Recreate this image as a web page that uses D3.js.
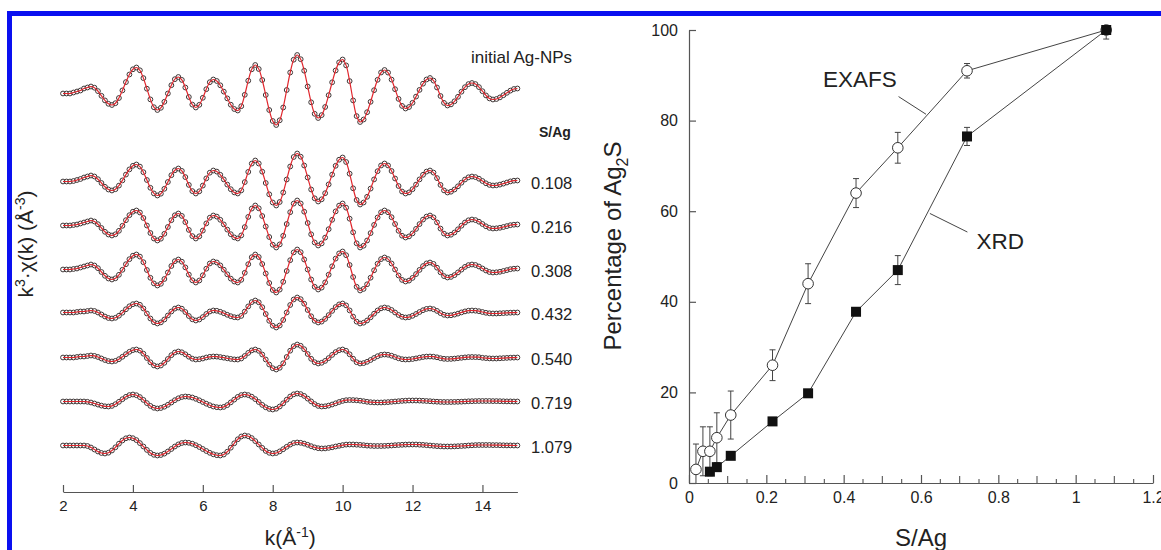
<!DOCTYPE html>
<html>
<head>
<meta charset="utf-8">
<script src="https://cdn.jsdelivr.net/npm/d3@7"></script>
<style>
  html, body { margin: 0; padding: 0; background: #fff; }
  svg { display: block; font-family: "Liberation Sans", Arial, Helvetica, sans-serif; }
</style>
</head>
<body>
<svg id="chart" width="1161" height="550"></svg>
<script>
// ---------- EXAFS spectra: k^3*chi(k), uniform k grid ----------
const kStart = 2, kStep = 0.1;
const kTicks = [2, 4, 6, 8, 10, 12, 14];

// S/Ag ratios of the sulfidised samples
const sAgValues = [0.108, 0.216, 0.308, 0.432, 0.540, 0.719, 1.079];
const lowSAg = [0.018, 0.036, 0.054, 0.072];

// vertical stacking of the spectra (same units as k^3*chi)
const stackOffsets = [0, -8.8, -13.2, -17.6, -21.9, -26.4, -30.8, -35.2];

const chiInitial = [0,0,0,0.1,0.2,0.3,0.5,0.6,0.7, 0.58,0.24,-0.23,-0.69,-1.03,-1.15, -0.97,-0.45,0.31,1.14,1.9,2.42,2.6, 2.32,1.54,0.48,-0.59,-1.37,-1.65, -1.43,-0.83,0,0.83,1.43,1.65, 1.36,0.6,-0.35,-1.11,-1.4, -1.13,-0.43,0.43,1.13,1.4, 1.25,0.82,0.19,-0.49,-1.12,-1.55,-1.7, -1.27,-0.13,1.28,2.42,2.85, 2.45,1.35,-0.15,-1.65,-2.75,-3.15, -2.68,-1.4,0.35,2.1,3.38,3.85, 3.43,2.28,0.7,-0.88,-2.03,-2.45, -2.16,-1.35,-0.17,1.12,2.3,3.11,3.4, 2.81,1.24,-0.69,-2.26,-2.85, -2.6,-1.87,-0.83,0.33,1.37,2.1,2.35, 2.09,1.39,0.43,-0.54,-1.24,-1.5, -1.35,-0.93,-0.31,0.36,0.98,1.4,1.55, 1.29,0.6,-0.25,-0.94,-1.2, -1.09,-0.78,-0.33,0.18,0.63,0.94,1.05, 0.94,0.64,0.23,-0.19,-0.49,-0.6, -0.55,-0.39,-0.17,0.07,0.29,0.45,0.5];

const chi0108 = [0,0,0,0.05,0.15,0.25,0.4,0.5,0.6, 0.5,0.23,-0.15,-0.53,-0.8,-0.9, -0.77,-0.41,0.11,0.69,1.21,1.57,1.7, 1.49,0.93,0.15,-0.63,-1.19,-1.4, -1.22,-0.73,-0.05,0.63,1.12,1.3, 1.06,0.44,-0.34,-0.96,-1.2, -0.98,-0.41,0.31,0.88,1.1, 0.99,0.67,0.21,-0.31,-0.77,-1.09,-1.2, -0.89,-0.06,0.96,1.79,2.1, 1.8,0.98,-0.15,-1.28,-2.1,-2.4, -2.05,-1.1,0.2,1.5,2.45,2.8, 2.48,1.6,0.4,-0.8,-1.68,-2, -1.78,-1.17,-0.29,0.69,1.57,2.18,2.4, 1.95,0.78,-0.68,-1.85,-2.3, -2.1,-1.53,-0.71,0.21,1.03,1.6,1.8, 1.6,1.05,0.3,-0.45,-1,-1.2, -1.09,-0.77,-0.31,0.21,0.67,0.99,1.1, 0.89,0.34,-0.34,-0.89,-1.1, -1.02,-0.8,-0.48,-0.12,0.2,0.42,0.5, 0.44,0.28,0.05,-0.18,-0.34,-0.4, -0.38,-0.31,-0.21,-0.1,0.01,0.08,0.1];

const chi0216 = [0,0,0,0.05,0.1,0.2,0.3,0.4,0.5, 0.4,0.13,-0.25,-0.63,-0.9,-1, -0.88,-0.53,-0.03,0.53,1.03,1.38,1.5, 1.3,0.75,0,-0.75,-1.3,-1.5, -1.32,-0.83,-0.15,0.53,1.02,1.2, 0.96,0.34,-0.44,-1.06,-1.3, -1.08,-0.51,0.21,0.78,1, 0.89,0.57,0.11,-0.41,-0.87,-1.19,-1.3, -0.99,-0.16,0.86,1.69,2, 1.72,0.95,-0.1,-1.15,-1.92,-2.2, -1.89,-1.03,0.15,1.33,2.19,2.5, 2.2,1.38,0.25,-0.88,-1.7,-2, -1.79,-1.21,-0.37,0.57,1.41,1.99,2.2, 1.78,0.68,-0.68,-1.78,-2.2, -2.02,-1.5,-0.76,0.06,0.8,1.32,1.5, 1.32,0.83,0.15,-0.53,-1.02,-1.2, -1.09,-0.79,-0.34,0.14,0.59,0.89,1, 0.81,0.31,-0.31,-0.81,-1, -0.92,-0.7,-0.38,-0.02,0.3,0.52,0.6, 0.54,0.38,0.15,-0.08,-0.24,-0.3, -0.28,-0.23,-0.15,-0.06,0.03,0.08,0.1];

const chi0308 = [0,0,0,0.05,0.1,0.2,0.3,0.4,0.5, 0.4,0.13,-0.25,-0.63,-0.9,-1, -0.88,-0.53,-0.03,0.53,1.03,1.38,1.5, 1.29,0.73,-0.05,-0.83,-1.39,-1.6, -1.43,-0.95,-0.3,0.35,0.83,1, 0.78,0.21,-0.51,-1.08,-1.3, -1.1,-0.58,0.08,0.6,0.8, 0.7,0.41,-0.02,-0.48,-0.91,-1.2,-1.3, -1.03,-0.33,0.53,1.23,1.5, 1.25,0.55,-0.4,-1.35,-2.05,-2.3, -2.01,-1.23,-0.15,0.93,1.71,2, 1.73,1,0,-1,-1.73,-2, -1.81,-1.29,-0.52,0.32,1.09,1.61,1.8, 1.43,0.45,-0.75,-1.73,-2.1, -1.94,-1.48,-0.82,-0.08,0.58,1.04,1.2, 1.04,0.6,0,-0.6,-1.04,-1.2, -1.11,-0.84,-0.46,-0.04,0.34,0.61,0.7, 0.56,0.18,-0.28,-0.66,-0.8, -0.74,-0.56,-0.29,-0.01,0.26,0.44,0.5, 0.45,0.3,0.1,-0.1,-0.25,-0.3, -0.28,-0.23,-0.15,-0.06,0.03,0.08,0.1];

const chi0432 = [0,0,0,0,0.05,0.1,0.1,0.15,0.2, 0.15,0,-0.2,-0.4,-0.55,-0.6, -0.53,-0.32,-0.02,0.32,0.62,0.83,0.9, 0.77,0.4,-0.1,-0.6,-0.97,-1.1, -0.99,-0.7,-0.3,0.1,0.39,0.5, 0.38,0.05,-0.35,-0.68,-0.8, -0.7,-0.46,-0.15,0.1,0.2, 0.17,0.07,-0.07,-0.23,-0.37,-0.47,-0.5, -0.34,0.09,0.61,1.04,1.2, 1.02,0.53,-0.15,-0.83,-1.32,-1.5, -1.3,-0.75,0,0.75,1.3,1.5, 1.33,0.88,0.25,-0.38,-0.83,-1, -0.91,-0.64,-0.26,0.16,0.54,0.81,0.9, 0.71,0.21,-0.41,-0.91,-1.1, -1.02,-0.8,-0.48,-0.12,0.2,0.42,0.5, 0.43,0.25,0,-0.25,-0.43,-0.5, -0.46,-0.33,-0.15,0.05,0.23,0.36,0.4, 0.33,0.16,-0.06,-0.23,-0.3, -0.28,-0.21,-0.11,0.01,0.11,0.18,0.2, 0.18,0.13,0.05,-0.03,-0.08,-0.1, -0.1,-0.08,-0.06,-0.04,-0.02,-0.01,0];

const chi0540 = [0,0,0,0,0.05,0.1,0.1,0.15,0.2, 0.16,0.05,-0.1,-0.25,-0.36,-0.4, -0.34,-0.17,0.07,0.33,0.57,0.74,0.8, 0.69,0.38,-0.05,-0.48,-0.79,-0.9, -0.8,-0.53,-0.15,0.23,0.5,0.6, 0.52,0.32,0.08,-0.12,-0.2, -0.17,-0.1,0,0.07,0.1, 0.09,0.04,-0.02,-0.08,-0.14,-0.19,-0.2, -0.1,0.15,0.46,0.71,0.8, 0.67,0.3,-0.2,-0.7,-1.07,-1.2, -1.03,-0.58,0.05,0.68,1.13,1.3, 1.17,0.83,0.35,-0.13,-0.47,-0.6, -0.53,-0.34,-0.06,0.26,0.54,0.73,0.8, 0.67,0.32,-0.12,-0.47,-0.6, -0.56,-0.43,-0.25,-0.05,0.13,0.26,0.3, 0.27,0.18,0.05,-0.08,-0.17,-0.2, -0.19,-0.15,-0.09,-0.02,0.05,0.09,0.1, 0.08,0.02,-0.07,-0.13,-0.15, -0.14,-0.11,-0.07,-0.03,0.01,0.04,0.05, 0.04,0.03,-0.03,-0.06,-0.09,-0.1, -0.1,-0.08,-0.06,-0.04,-0.02,-0.01,0];

const chi0719 = [0,0,0,0,0,0,0, -0.03,-0.1,-0.2,-0.31,-0.41,-0.48,-0.5, -0.44,-0.27,-0.03,0.23,0.47,0.64,0.7, 0.63,0.44,0.16,-0.16,-0.44,-0.63,-0.7, -0.65,-0.52,-0.33,-0.1,0.13,0.32,0.45,0.5, 0.47,0.4,0.27,0.12,-0.05,-0.22,-0.37,-0.5,-0.57,-0.6, -0.54,-0.36,-0.09,0.19,0.46,0.64,0.7, 0.64,0.48,0.24,-0.05,-0.34,-0.58,-0.74,-0.8, -0.72,-0.5,-0.18,0.18,0.5,0.72,0.8, 0.74,0.56,0.29,0.01,-0.26,-0.44,-0.5, -0.48,-0.41,-0.3,-0.18,-0.05,0.06,0.13,0.15, 0.14,0.12,0.08,0.03,-0.03,-0.07,-0.09,-0.1, -0.1,-0.08,-0.06,-0.03,0,0.03,0.06,0.08,0.1,0.1, 0.1,0.09,0.07,0.05,0.03,0,-0.02,-0.04,-0.05,-0.05, -0.05,-0.04,-0.03,-0.02,0,0.02,0.03,0.04,0.05,0.05, 0.05,0.05,0.04,0.04,0.03,0.02,0.01,0.01,0,0];

const chi1079 = [0,0,0,0,0,0,0, -0.05,-0.2,-0.4,-0.6,-0.75,-0.8, -0.72,-0.5,-0.18,0.18,0.5,0.72,0.8, 0.73,0.54,0.24,-0.1,-0.44,-0.74,-0.93,-1, -0.95,-0.81,-0.6,-0.35,-0.1,0.11,0.25,0.3, 0.27,0.18,0.03,-0.15,-0.35,-0.55,-0.73,-0.88,-0.97,-1, -0.9,-0.62,-0.22,0.22,0.62,0.9,1, 0.93,0.74,0.44,0.1,-0.24,-0.54,-0.73,-0.8, -0.75,-0.59,-0.37,-0.13,0.09,0.25,0.3, 0.27,0.19,0.07,-0.07,-0.19,-0.27,-0.3, -0.29,-0.24,-0.18,-0.1,-0.03,0.04,0.09,0.1, 0.1,0.08,0.06,0.03,-0.01,-0.03,-0.05,-0.05, -0.05,-0.04,-0.02,0,0.03,0.05,0.07,0.09,0.1,0.1, 0.1,0.08,0.06,0.03,0,-0.03,-0.06,-0.08,-0.1,-0.1, -0.1,-0.09,-0.07,-0.05,-0.03,0,0.02,0.04,0.05,0.05, 0.05,0.05,0.04,0.04,0.03,0.02,0.01,0.01,0,0];

const spectra = [chiInitial, chi0108, chi0216, chi0308, chi0432, chi0540, chi0719, chi1079];

// ---------- Ag2S fraction vs S/Ag ----------
const exafsSAg = [...lowSAg, ...sAgValues];
const exafsPct = [3, 7, 7, 10, 15, 26, 44, 64, 74, 91, 100];
const exafsErr = [5.6, 5.4, 5.4, 5.5, 5.3, 3.4, 4.4, 3.2, 3.4, 1.6, 0];

const xrdSAg = [0.054, 0.072, ...sAgValues];
const xrdPct = [2.5, 3.5, 6, 13.6, 19.8, 37.8, 47, 76.5, 100];
const xrdErr = [0, 0, 0, 0, 0, 0, 3.2, 2, 2];

const pctTicks = [0, 20, 40, 60, 80, 100];
const sAgTicks = [0, 0.2, 0.4, 0.6, 0.8, 1, 1.2];

// ---------- drawing ----------
const svg = d3.select("#chart");
const ink = "#222";
const axisGrey = "#555";

// blue frame
svg.append("rect").attr("x", 7).attr("y", 11).attr("width", 1154).attr("height", 5).attr("fill", "#0a10f0");
svg.append("rect").attr("x", 7).attr("y", 11).attr("width", 5).attr("height", 539).attr("fill", "#0a10f0");

// ----- left panel -----
const xK = d3.scaleLinear().domain([2, 15]).range([63, 517.4]);
const yK = d3.scaleLinear().domain([5, -38]).range([43.5, 473.5]);

const left = svg.append("g");

const fitLine = d3.line()
  .x(d => xK(d.k))
  .y(d => yK(d.v))
  .curve(d3.curveCatmullRom);

spectra.forEach((vals, s) => {
  const pts = vals.map((v, i) => ({ k: kStart + i * kStep, v: v + stackOffsets[s] }));
  const g = left.append("g");
  g.selectAll("circle").data(pts).join("circle")
    .attr("cx", d => xK(d.k))
    .attr("cy", d => yK(d.v))
    .attr("r", 2.4)
    .attr("fill", "rgba(255,255,255,0.55)")
    .attr("stroke", "#3d3535")
    .attr("stroke-width", 1);
  g.append("path")
    .attr("d", fitLine(pts))
    .attr("fill", "none")
    .attr("stroke", "#e0262d")
    .attr("stroke-width", 1.2);
});

// curve labels
left.append("text")
  .attr("x", 471).attr("y", yK(stackOffsets[0]) - 36)
  .attr("font-size", 17).attr("fill", ink)
  .attr("dominant-baseline", "central")
  .text("initial Ag-NPs");
left.append("text")
  .attr("x", 539).attr("y", yK(stackOffsets[0]) + 38)
  .attr("font-size", 14).attr("font-weight", "bold").attr("fill", ink)
  .attr("dominant-baseline", "central")
  .text("S/Ag");
sAgValues.forEach((r, i) => {
  left.append("text")
    .attr("x", 531).attr("y", yK(stackOffsets[i + 1]) + 1)
    .attr("font-size", 16.5).attr("fill", ink)
    .attr("dominant-baseline", "central")
    .text(d3.format(".3f")(r));
});

// k axis
const kAxis = left.append("g")
  .attr("transform", "translate(0,492)")
  .call(d3.axisBottom(xK).tickValues(kTicks).tickSize(-7).tickSizeOuter(0).tickPadding(8).tickFormat(d3.format("d")));
kAxis.select(".domain").attr("stroke", axisGrey).attr("stroke-width", 1.2);
kAxis.selectAll(".tick line").attr("stroke", axisGrey).attr("stroke-width", 1.2);
kAxis.selectAll(".tick text").attr("font-size", 15).attr("fill", ink).attr("font-family", null);

const kTitle = left.append("text")
  .attr("x", xK(8.5)).attr("y", 545)
  .attr("text-anchor", "middle").attr("font-size", 21).attr("fill", ink);
kTitle.append("tspan").text("k(Å");
kTitle.append("tspan").attr("dy", -8).attr("font-size", 14).text("-1");
kTitle.append("tspan").attr("dy", 8).text(")");

const chiTitle = left.append("text")
  .attr("transform", "translate(33,244) rotate(-90)")
  .attr("text-anchor", "middle").attr("font-size", 21).attr("fill", ink);
chiTitle.append("tspan").text("k");
chiTitle.append("tspan").attr("dy", -8).attr("font-size", 14).text("3");
chiTitle.append("tspan").attr("dy", 8).text("·χ(k) (Å");
chiTitle.append("tspan").attr("dy", -8).attr("font-size", 14).text("-3");
chiTitle.append("tspan").attr("dy", 8).text(")");

// ----- right panel -----
const xS = d3.scaleLinear().domain([0, 1.2]).range([689, 1153]);
const yP = d3.scaleLinear().domain([0, 100]).range([483, 30]);
const right = svg.append("g");

const yAx = right.append("g")
  .attr("transform", `translate(${xS(0)},0)`)
  .call(d3.axisLeft(yP).tickValues(pctTicks).tickSize(-7).tickSizeOuter(0).tickPadding(11));
yAx.select(".domain").attr("stroke", axisGrey).attr("stroke-width", 1.2);
yAx.selectAll(".tick line").attr("stroke", axisGrey).attr("stroke-width", 1.2);
yAx.selectAll(".tick text").attr("font-size", 16).attr("fill", ink).attr("font-family", null);

const xAx = right.append("g")
  .attr("transform", `translate(0,${yP(0)})`)
  .call(d3.axisBottom(xS).tickValues(sAgTicks).tickSize(-8).tickSizeOuter(0).tickPadding(9).tickFormat(d3.format("~g")));
xAx.select(".domain").attr("stroke", axisGrey).attr("stroke-width", 1.2);
xAx.selectAll(".tick line").attr("stroke", axisGrey).attr("stroke-width", 1.2);
xAx.selectAll(".tick text").attr("font-size", 16).attr("fill", ink).attr("font-family", null);
// minor ticks every 0.05
const minor = d3.range(1, 24).map(i => i * 0.05).filter(v => Math.abs(v * 5 - Math.round(v * 5)) > 1e-6);
right.append("g").selectAll("line").data(minor).join("line")
  .attr("x1", d => xS(d)).attr("x2", d => xS(d))
  .attr("y1", yP(0)).attr("y2", d => yP(0) - (Math.abs(d * 10 - Math.round(d * 10)) < 1e-6 ? 7 : 4))
  .attr("stroke", axisGrey).attr("stroke-width", 1.1);

right.append("text")
  .attr("x", (xS(0) + xS(1.2)) / 2).attr("y", 546)
  .attr("text-anchor", "middle").attr("font-size", 24).attr("fill", ink)
  .text("S/Ag");

const pTitle = right.append("text")
  .attr("transform", "translate(621,246) rotate(-90)")
  .attr("text-anchor", "middle").attr("font-size", 24).attr("fill", ink);
pTitle.append("tspan").text("Percentage of Ag");
pTitle.append("tspan").attr("dy", 7).attr("font-size", 16).text("2");
pTitle.append("tspan").attr("dy", -7).text("S");

const pctLine = d3.line().x(d => xS(d.x)).y(d => yP(d.y));
const exafs = exafsSAg.map((x, i) => ({ x, y: exafsPct[i], e: exafsErr[i] }));
const xrd = xrdSAg.map((x, i) => ({ x, y: xrdPct[i], e: xrdErr[i] }));

[exafs, xrd].forEach(series => {
  right.append("path").attr("d", pctLine(series))
    .attr("fill", "none").attr("stroke", "#444").attr("stroke-width", 1);
  const eb = right.append("g").attr("stroke", "#444").attr("stroke-width", 1);
  series.filter(d => d.e > 0).forEach(d => {
    const lo = Math.max(0, d.y - d.e), hi = Math.min(100, d.y + d.e);
    eb.append("line").attr("x1", xS(d.x)).attr("x2", xS(d.x)).attr("y1", yP(lo)).attr("y2", yP(hi));
    eb.append("line").attr("x1", xS(d.x) - 3).attr("x2", xS(d.x) + 3).attr("y1", yP(hi)).attr("y2", yP(hi));
    if (d.y - d.e > 0) eb.append("line").attr("x1", xS(d.x) - 3).attr("x2", xS(d.x) + 3).attr("y1", yP(lo)).attr("y2", yP(lo));
  });
});

right.append("g").selectAll("circle").data(exafs).join("circle")
  .attr("cx", d => xS(d.x)).attr("cy", d => yP(d.y)).attr("r", 5.3)
  .attr("fill", "#fff").attr("stroke", "#333").attr("stroke-width", 1);
right.append("g").selectAll("rect").data(xrd).join("rect")
  .attr("x", d => xS(d.x) - 5).attr("y", d => yP(d.y) - 5)
  .attr("width", 10).attr("height", 10).attr("fill", "#111");

// series annotations with leader lines
const notes = [
  { text: "EXAFS", tx: 0.442, ty: 89, from: [0.542, 85.3], to: [0.613, 81.4] },
  { text: "XRD", tx: 0.805, ty: 53.3, from: [0.72, 55.4], to: [0.623, 59.5] }
];
notes.forEach(n => {
  right.append("text").attr("x", xS(n.tx)).attr("y", yP(n.ty))
    .attr("text-anchor", "middle").attr("dominant-baseline", "central")
    .attr("font-size", 22.5).attr("fill", ink).text(n.text);
  right.append("line")
    .attr("x1", xS(n.from[0])).attr("y1", yP(n.from[1]))
    .attr("x2", xS(n.to[0])).attr("y2", yP(n.to[1]))
    .attr("stroke", "#444").attr("stroke-width", 1);
});
</script>
</body>
</html>
